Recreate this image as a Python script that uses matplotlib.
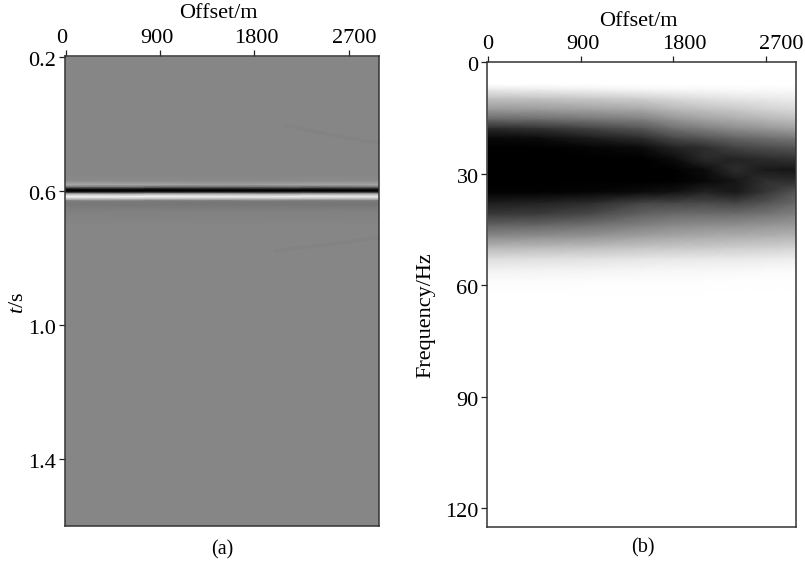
import numpy as np
import matplotlib
matplotlib.use("Agg")
import matplotlib.pyplot as plt
from matplotlib.transforms import ScaledTranslation

plt.rcParams['font.family'] = ['Liberation Serif']
plt.rcParams['mathtext.fontset'] = 'custom'
plt.rcParams['mathtext.rm'] = 'Liberation Serif'
plt.rcParams['mathtext.it'] = 'Liberation Serif:italic'

# Panel (a): gray level per time row and offset column
a_offsets = [0, 1500, 2990]
a_times = [0.2, 0.55, 0.57, 0.582, 0.59, 0.595, 0.6, 0.604, 0.609, 0.616, 0.623, 0.63, 0.64, 0.66, 0.7, 1.6]
a_gray = [
    [134, 134, 134],
    [134, 134, 134],
    [138, 138, 140],
    [172, 160, 168],
    [95, 90, 95],
    [15, 20, 25],
    [0, 0, 0],
    [30, 35, 40],
    [170, 165, 160],
    [245, 240, 235],
    [205, 200, 195],
    [125, 120, 122],
    [120, 118, 118],
    [128, 128, 128],
    [134, 134, 134],
    [134, 134, 134],
]
event1_offset = [2100, 2500, 2990]
event1_time = [0.404, 0.43, 0.458]
event2_offset = [2000, 2500, 2990]
event2_time = [0.778, 0.76, 0.739]

# Panel (b): gray level per frequency row and offset column
b_offsets = [0, 500, 1000, 1500, 1800, 2100, 2400, 2700, 2990]
b_freqs = [0, 6, 7.5, 10, 13, 15.6, 18, 20.5, 23, 26, 29, 32, 35, 38, 41, 44, 47, 50, 53, 56, 59, 64, 125]
b_gray = [
    [255, 255, 255, 255, 255, 255, 255, 255, 255],
    [255, 255, 255, 255, 255, 255, 255, 255, 255],
    [232, 236, 240, 245, 247, 248, 250, 250, 250],
    [190, 192, 198, 205, 215, 222, 228, 232, 235],
    [150, 152, 158, 165, 180, 190, 198, 208, 215],
    [100, 105, 115, 125, 145, 160, 170, 180, 190],
    [40, 48, 65, 85, 110, 125, 140, 150, 160],
    [8, 12, 28, 45, 72, 85, 100, 110, 120],
    [0, 0, 5, 12, 35, 45, 68, 78, 85],
    [0, 0, 0, 0, 12, 42, 35, 45, 52],
    [0, 0, 0, 0, 0, 12, 45, 25, 22],
    [0, 0, 0, 0, 0, 8, 22, 48, 45],
    [2, 2, 5, 12, 18, 35, 25, 55, 85],
    [30, 35, 45, 70, 72, 75, 70, 85, 105],
    [58, 62, 75, 100, 108, 110, 110, 118, 130],
    [100, 105, 115, 130, 138, 142, 145, 150, 155],
    [140, 145, 150, 162, 168, 172, 175, 178, 182],
    [185, 188, 192, 198, 200, 202, 206, 208, 212],
    [222, 224, 226, 230, 232, 233, 234, 236, 238],
    [242, 243, 244, 246, 247, 247, 248, 250, 250],
    [252, 252, 253, 253, 253, 254, 254, 254, 254],
    [255, 255, 255, 255, 255, 255, 255, 255, 255],
    [255, 255, 255, 255, 255, 255, 255, 255, 255],
]

a_xticks = [0, 900, 1800, 2700]
a_yticks = [0.2, 0.6, 1.0, 1.4]
b_xticks = [0, 900, 1800, 2700]
b_yticks = [0, 30, 60, 90, 120]

W, H = 805, 567
fig = plt.figure(figsize=(W / 100, H / 100), dpi=100)
FS = 16


def box(l, t, r, b):
    return [l / W, 1 - b / H, (r - l) / W, (b - t) / H]


axa = fig.add_axes(box(64.5, 56, 379, 526))
axa.pcolormesh(a_offsets, a_times, np.array(a_gray, float), shading='gouraud',
               cmap='gray', vmin=0, vmax=255)
axa.plot(event1_offset, event1_time, color='#7f7f7f', lw=2.5, alpha=0.35)
axa.plot(event2_offset, event2_time, color='#7f7f7f', lw=2.5, alpha=0.35)
axa.set_xlim(-10, 2990)
axa.set_ylim(1.6, 0.197)
axa.set_xticks(a_xticks)
axa.set_yticks(a_yticks)
axa.set_yticklabels([f'{v:.1f}' for v in a_yticks])
axa.set_ylabel(r'$\mathit{t}$/s', fontsize=FS, labelpad=0)
axa.yaxis.set_label_coords((28 - 64.5) / (379 - 64.5), 1 - (303 - 56) / 470)

axb = fig.add_axes(box(487, 62, 796, 527))
axb.pcolormesh(b_offsets, b_freqs, np.array(b_gray, float), shading='gouraud',
               cmap='gray', vmin=0, vmax=255)
axb.set_xlim(-10, 2990)
axb.set_ylim(125, 0)
axb.set_xticks(b_xticks)
axb.set_yticks(b_yticks)
axb.set_ylabel('Frequency/Hz', fontsize=FS)
axb.yaxis.set_label_coords((435 - 487) / (796 - 487), 1 - (315 - 62) / 465)

shifts = {id(axa): [-4, -3, 2, 6], id(axb): [0, 2, 11, 15]}
for ax, cap, cx, cy, ty in [(axa, '(a)', 222, 550, 13), (axb, '(b)', 643, 548, 21)]:
    ax.xaxis.set_ticks_position('top')
    ax.tick_params(axis='both', direction='out', length=4.5, width=0.9,
                   labelsize=FS, pad=1.5, color='#222222')
    for s in ax.spines.values():
        s.set_linewidth(1.1)
        s.set_color('#333333')
    for lab, dx in zip(ax.get_xticklabels(), shifts[id(ax)]):
        lab.set_transform(lab.get_transform() + ScaledTranslation(dx / 100, 0, fig.dpi_scale_trans))
    for lab in ax.get_yticklabels():
        lab.set_transform(lab.get_transform() + ScaledTranslation(0, -2 / 100, fig.dpi_scale_trans))
    fig.text(cx / W, 1 - cy / H, cap, ha='center', va='center', fontsize=14.5)
    pos = ax.get_position()
    fig.text((pos.x0 + pos.x1) / 2 - 3 / W, 1 - ty / H, 'Offset/m', ha='center', va='center', fontsize=FS)

fig.savefig('out.png', dpi=100)
